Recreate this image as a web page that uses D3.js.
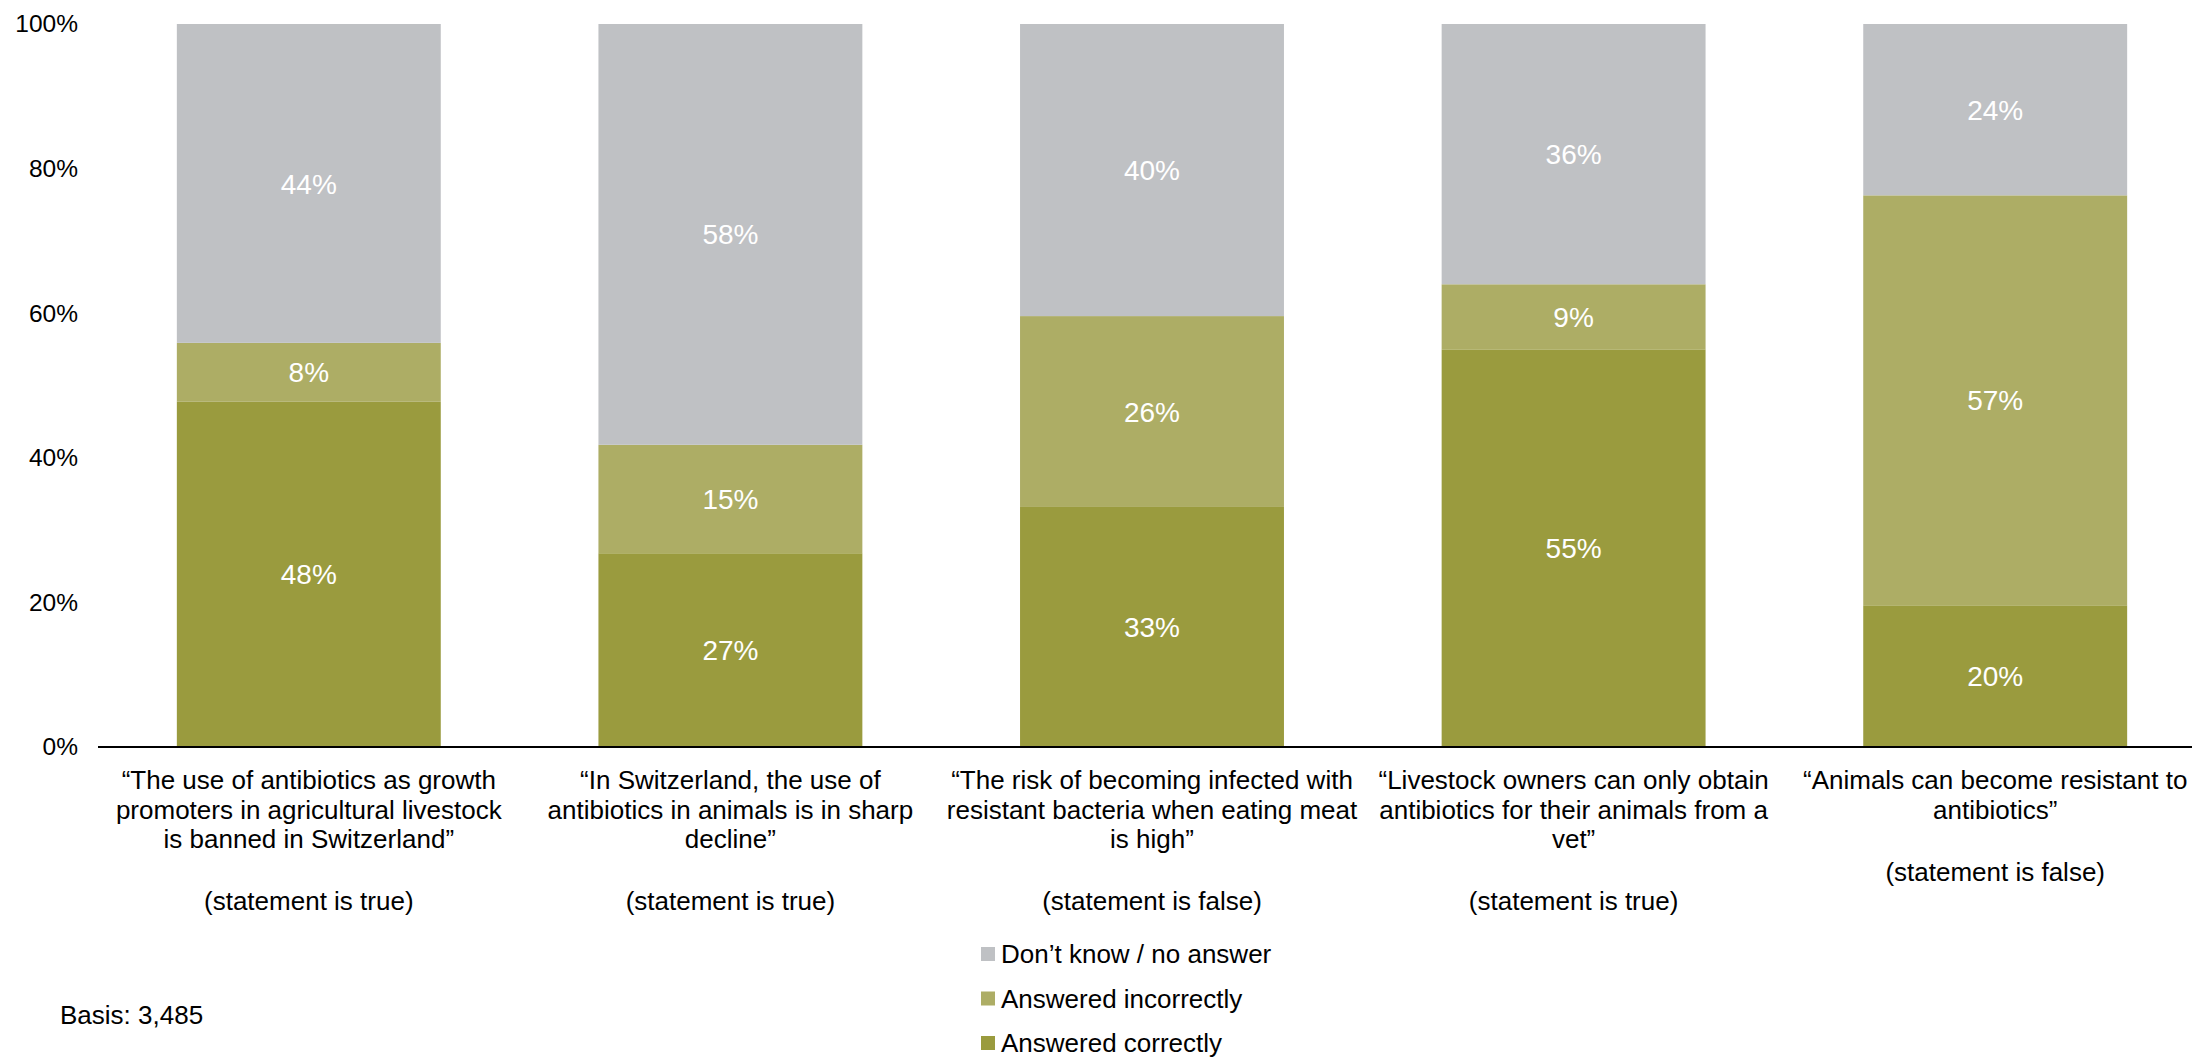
<!DOCTYPE html>
<html>
<head>
	<meta charset="utf-8">
	<title>Antibiotics knowledge</title>
	<script src="https://d3js.org/d3.v7.min.js"></script>
	<style>
		body { margin: 0; background: #fff; }
		text { font-family: "Liberation Sans", Arial, sans-serif; fill: #000; }
	</style>
</head>
<body>
	<div id="chart"></div>
	<script>
	// statements (x categories), one line per entry; the last entry is the true/false note
	var categories = [
		["\u201CThe use of antibiotics as growth", "promoters in agricultural livestock", "is banned in Switzerland\u201D", "(statement is true)"],
		["\u201CIn Switzerland, the use of", "antibiotics in animals is in sharp", "decline\u201D", "(statement is true)"],
		["\u201CThe risk of becoming infected with", "resistant bacteria when eating meat", "is high\u201D", "(statement is false)"],
		["\u201CLivestock owners can only obtain", "antibiotics for their animals from a", "vet\u201D", "(statement is true)"],
		["\u201CAnimals can become resistant to", "antibiotics\u201D", "(statement is false)"]
	];
	var correct   = [47.8, 26.8, 33.2, 55.0, 19.6];
	var incorrect = [8.1, 15.0, 26.4, 9.0, 56.7];
	var dontKnow  = [44.1, 58.2, 40.4, 36.0, 23.7];
	var seriesNames = ["Answered correctly", "Answered incorrectly", "Don\u2019t know / no answer"];
	var yTicks = [0, 20, 40, 60, 80, 100];

	var width = 2192, height = 1059;
	var colors = {"Answered correctly": "#9a9b3e", "Answered incorrectly": "#adad65", "Don\u2019t know / no answer": "#bfc1c4"};

	var svg = d3.select("#chart").append("svg")
		.attr("width", width)
		.attr("height", height);

	var x = d3.scaleBand()
		.domain(d3.range(categories.length))
		.range([98, 2206])
		.paddingInner(0.374)
		.paddingOuter(0.187);

	var y = d3.scaleLinear().domain([0, 100]).range([747, 24]);

	var table = categories.map(function(c, i) {
		var row = {i: i};
		row[seriesNames[0]] = correct[i];
		row[seriesNames[1]] = incorrect[i];
		row[seriesNames[2]] = dontKnow[i];
		return row;
	});

	var stacked = d3.stack().keys(seriesNames)(table);

	var layers = svg.selectAll("g.layer")
		.data(stacked)
		.enter().append("g")
		.attr("class", "layer")
		.attr("fill", function(d) { return colors[d.key]; });

	layers.selectAll("rect")
		.data(function(d) { return d; })
		.enter().append("rect")
		.attr("x", function(d) { return x(d.data.i); })
		.attr("width", x.bandwidth())
		.attr("y", function(d) { return y(d[1]); })
		.attr("height", function(d) { return y(d[0]) - y(d[1]); });

	// value labels
	layers.selectAll("text")
		.data(function(d) { return d; })
		.enter().append("text")
		.attr("x", function(d) { return x(d.data.i) + x.bandwidth() / 2; })
		.attr("y", function(d) { return (y(d[0]) + y(d[1])) / 2; })
		.attr("dy", "0.36em")
		.attr("text-anchor", "middle")
		.style("fill", "#fff")
		.style("font-size", "28px")
		.text(function(d) { return d3.format(".0f")(d[1] - d[0]) + "%"; });

	// y axis
	var yAxis = svg.append("g")
		.attr("transform", "translate(78,0)")
		.call(d3.axisLeft(y).tickValues(yTicks).tickSize(0).tickPadding(0)
			.tickFormat(function(d) { return d + "%"; }));
	yAxis.select(".domain").remove();
	yAxis.selectAll("text")
		.style("font-size", "24.5px")
		.attr("font-family", null)
		.attr("fill", null);

	// baseline
	svg.append("line")
		.attr("x1", 98).attr("x2", width)
		.attr("y1", y(0)).attr("y2", y(0))
		.attr("stroke", "#000")
		.attr("stroke-width", 2);

	// category labels
	var xl = svg.selectAll("text.cat")
		.data(categories)
		.enter().append("text")
		.attr("class", "cat")
		.attr("text-anchor", "middle")
		.style("font-size", "26px");
	xl.selectAll("tspan")
		.data(function(d, i) { return d.map(function(t) { return {t: t, i: i}; }); })
		.enter().append("tspan")
		.attr("x", function(d) { return x(d.i) + x.bandwidth() / 2; })
		.attr("y", function(d, j, nodes) {
			var last = nodes.length - 1;
			return j < last ? 789 + j * 29.5 : 789 + (last - 1) * 29.5 + 62;
		})
		.text(function(d) { return d.t; });

	// legend
	var legend = svg.append("g").attr("transform", "translate(981,0)");
	var legendOrder = seriesNames.slice().reverse();
	var lg = legend.selectAll("g")
		.data(legendOrder)
		.enter().append("g")
		.attr("transform", function(d, i) { return "translate(0," + (954 + i * 44.5) + ")"; });
	lg.append("rect")
		.attr("x", 0).attr("y", -7)
		.attr("width", 14).attr("height", 14)
		.attr("fill", function(d) { return colors[d]; });
	lg.append("text")
		.attr("x", 20)
		.attr("dy", "0.35em")
		.style("font-size", "26px")
		.text(function(d) { return d; });

	svg.append("text")
		.attr("x", 60).attr("y", 1024)
		.style("font-size", "26px")
		.text("Basis: 3,485");
	</script>
</body>
</html>
